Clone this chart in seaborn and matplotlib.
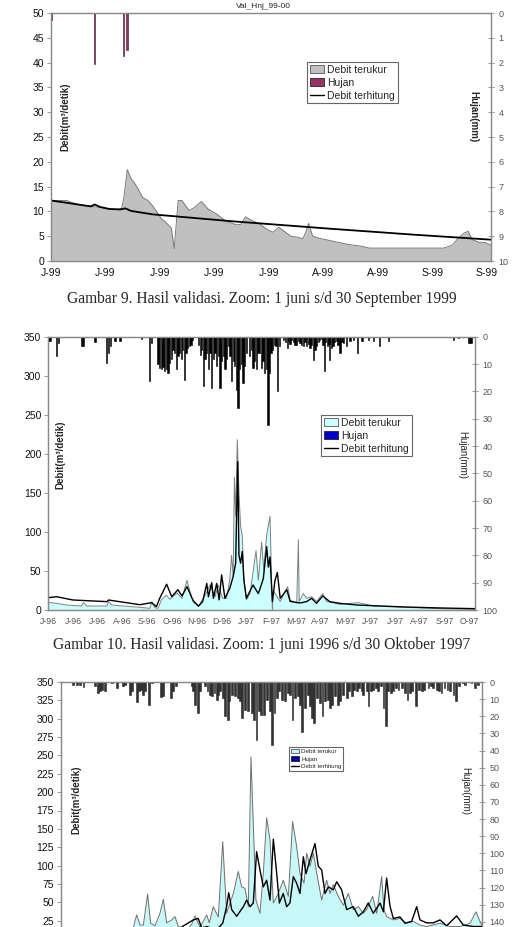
import seaborn as sns
import matplotlib.pyplot as plt
from matplotlib.patches import Patch
from matplotlib.lines import Line2D

# ---- Gambar 9 (1 Jun - 30 Sep 1999), x = hari sejak 1 Juni
m1_day = [0, 2, 4.3, 5.7, 8, 11.2, 12.1, 13.4, 16.2, 18.5, 19.4, 20, 21, 22.1, 23, 24, 25.2, 26.7,
          28.1, 29.5, 30.4, 31.7, 33.1, 33.9, 35, 36, 38, 39.5, 41.4, 43.2, 45.5, 48.2, 51, 52.3,
          53.5, 55.5, 57.4, 59.2, 61, 62.7, 64.2, 66, 67.9, 69.3, 70.2, 70.9, 72, 73.8, 77.5, 82,
          85.3, 87.6, 108.1, 110.4, 112.3, 113.6, 114.8, 115.9, 117.7, 119.6, 121]
m1_val = [12.2, 12.2, 12.2, 11.8, 11.3, 11.0, 10.9, 10.8, 10.4, 10.4, 10.6, 12.5, 18.4, 16.5, 15.7,
          14.5, 12.8, 12.2, 11.0, 9.5, 8.5, 7.7, 6.7, 2.5, 12.2, 12.2, 10.2, 10.8, 12.0, 10.5, 9.5,
          8.0, 7.3, 7.4, 8.9, 8.1, 7.5, 6.5, 5.8, 6.8, 6.0, 5.0, 4.8, 4.5, 6.0, 7.6, 5.0, 4.6, 4.0,
          3.3, 3.0, 2.6, 2.6, 3.2, 4.8, 5.6, 6.0, 4.3, 3.8, 3.7, 3.2]
c1_day = [0, 11, 12, 13.5, 16, 19, 20.5, 22, 28, 50, 77, 100, 121]
c1_val = [12.2, 11.0, 11.4, 10.9, 10.5, 10.4, 10.6, 10.1, 9.4, 8.0, 6.5, 5.3, 4.3]
r1_day = [0, 12, 20, 21]
r1_mm = [0.3, 2.05, 1.75, 1.5]
x1_ticks = [0, 15, 30, 45, 60, 75, 90, 105, 120]
x1_labels = ["J-99", "J-99", "J-99", "J-99", "J-99", "A-99", "A-99", "S-99", "S-99"]

# ---- Gambar 10 (1 Jun 1996 - 30 Okt 1997)
m2_day = [0, 10, 22, 40, 42.5, 46.5, 71, 73, 77, 111, 123, 125.6, 129, 133, 137, 143, 147.5, 156,
          162, 168, 174, 182, 190, 196, 202, 206, 211, 216, 220, 222, 224, 225.5, 227, 229, 231,
          233, 235, 237, 240, 244.4, 251.7, 254.5, 258.5, 261, 264.6, 268.6, 270, 271.5, 272.5,
          274.7, 281, 290, 293, 301, 303, 304, 309, 313, 319, 325, 332.5, 337, 353, 376, 394,
          434, 475, 517]
m2_val = [9.8, 8.5, 6.4, 5.1, 9.4, 5.1, 5.1, 10.7, 6.4, 3.4, 2.1, 10.7, 3, 2.1, 13, 19, 13.7, 22,
          15, 38, 15, 5, 19, 32, 17, 32, 15, 15, 40, 70, 44, 170, 120, 218, 150, 107, 95, 40, 13,
          21, 76, 38, 87, 51, 96, 120, 60, 0, 25, 21, 11, 30, 13, 8.5, 90, 11, 21, 15, 17, 11, 21,
          11, 7.3, 9.4, 5.1, 3.4, 1.7, 0.9]
c2_day = [0, 10, 30, 71, 73, 111, 125, 131, 135, 143.4, 149.5, 157, 162, 168, 176, 182, 187, 192,
          194, 198, 200, 204, 207, 210, 214, 220, 224, 227, 229.5, 231, 233, 235, 237, 240, 248,
          254.5, 260.5, 264.6, 266.6, 268.6, 271.5, 274.7, 277.5, 281, 289, 293, 305, 313, 319,
          325, 332.5, 341, 353.5, 374, 394, 434, 475, 517]
c2_val = [15.8, 17, 12.8, 10.7, 12.8, 6.8, 9.4, 4.3, 15, 33, 17, 26, 18, 30, 10.7, 5, 10.7, 34,
          17, 35, 15, 34, 13, 45, 15, 28, 43, 60, 190, 70, 60, 75, 38, 15, 32, 21, 40, 81, 55, 68,
          11, 38, 48, 15, 26, 11, 9, 10.7, 15, 8.5, 18, 10.7, 8.5, 6.4, 5.5, 3.8, 2.6, 1.7]
r2_day = [0, 2, 10, 12, 40.5, 41.5, 42.5, 56.6, 70.7, 72.7, 75.6, 81, 87, 113, 123, 125,
          133, 135, 137, 139, 141, 143, 145, 147, 149, 151, 153, 155, 157, 159, 161, 163, 165,
          167, 169, 171, 173, 175,
          182, 184, 186, 188, 190, 192, 194, 196, 198, 200, 202, 204, 206, 208, 210, 212, 214,
          216, 218, 220, 222, 224, 226, 228, 230, 232, 234, 236, 238, 240, 244, 246, 248, 250,
          252, 254, 256, 258, 260, 262, 264, 266, 268, 270, 272, 274, 276, 278, 280,
          285, 287, 289.6, 291, 293, 295, 297, 299, 301, 303, 305, 307, 309, 311, 313, 315, 317,
          319, 321, 323, 325, 327, 329, 331, 333, 334.5, 336, 338, 340, 341, 343, 345, 347, 349.4,
          351, 353.5, 356, 358, 361.5, 365.6, 369.6, 374.5, 380, 388, 394, 401, 412, 491, 497,
          509, 511, 513]
r2_mm = [1.7, 1.7, 7.2, 2.3, 3.3, 3.3, 3.3, 2, 9.6, 6, 3.5, 1.7, 1.7, 0.8, 16.3, 2.3,
         10, 11.5, 12, 11, 12.7, 12, 13.3, 9.6, 8, 4.7, 6, 12, 7, 6, 8, 5, 15.7,
         6, 4, 3.5, 3, 1.1,
         3, 6.6, 5, 18.2, 8, 6, 12, 6, 18.8, 8, 6, 10.8, 7, 18.8, 9, 7, 12,
         8, 3.5, 7, 16.3, 9, 10.8, 19.4, 26.1, 12, 10, 17, 10.8, 6, 7.2, 5, 11.5, 9,
         12, 6, 6, 11.5, 9, 13.3, 12, 32.2, 13.3, 6, 4.7, 3, 3.5, 20, 3.5,
         1.1, 2, 4.1, 1.5, 2.5, 1.1, 2, 3, 2.9, 1.5, 2.3, 3, 3.5, 2, 3.5, 2.5, 4.1,
         3, 8.4, 5, 3.5, 2, 1.1, 1, 3, 12.4, 2, 3.5, 2.5, 8.4, 4, 3.5, 2, 1.7,
         3, 6, 2, 2.3, 3.5, 1.7, 1.1, 6, 1.7, 1.1, 1.7, 3.5, 1.7, 1.1, 0.5,
         2.3, 2.3, 2.3]
x2_ticks = list(range(0, 511, 30))
x2_labels = ["J-96", "J-96", "J-96", "A-96", "S-96", "O-96", "N-96", "D-96", "J-97", "F-97",
             "M-97", "A-97", "M-97", "J-97", "J-97", "A-97", "S-97", "O-97"]

# ---- Gambar 11 (terpotong di bawah halaman)
m3_day = [0, 40, 62, 62.7, 65.6, 68.5, 71.4, 75.1, 77.7, 81.5, 85.8, 88.7, 91.6, 96, 98.8, 101.7,
          109, 113.3, 116.2, 120.5, 126.3, 128.6, 132, 136.4, 140.2, 143.6, 149.4, 153.7, 156.6,
          159.5, 162.4, 164.7, 166.7, 169, 172.5, 175.4, 178.3, 181.2, 184.1, 188.4, 192.7, 197.1,
          200.8, 204.3, 207.2, 210.7, 213, 215.9, 218.8, 221.7, 226, 230.3, 233.2, 236.1, 240.4,
          244.8, 249.1, 253.4, 257.8, 262.1, 265, 270.2, 273.7, 278, 280, 282.3, 288.1, 293.9,
          299.7, 305.5, 311.2, 317, 328.6, 337.3, 345.9, 354.6, 359.8, 363.3, 365]
m3_val = [6, 8, 12, 16, 32.8, 19, 19, 61, 21.5, 18, 35, 54, 22, 26, 30.6, 17, 12.5, 20, 31.5, 16,
          32.8, 22, 44, 30, 132.5, 35, 62, 92, 71, 69, 44, 248, 157, 53, 35, 89.5, 165, 135, 49,
          62, 80, 58, 160, 126, 89.5, 76, 117, 99, 117, 89.5, 53, 80, 62, 74, 58, 46, 62, 40, 44,
          35, 40, 58, 35, 85, 40, 30.6, 26, 28, 21.5, 24, 19, 17, 21.5, 17, 17, 21.5, 37, 24, 18]
c3_day = [0, 40, 100, 114.7, 119, 122, 126.3, 135, 140.2, 143.6, 145.4, 148, 152.3, 158.1, 161,
          163.9, 166.7, 169.6, 172.5, 175.4, 178.3, 181.2, 184.1, 187, 189.3, 192.7, 195.6, 198.5,
          201.4, 204.3, 207.2, 210.1, 212.4, 215.9, 220.2, 223.1, 226, 228.9, 231.8, 236.1, 239,
          243.3, 247.7, 253.4, 257.8, 262.1, 266.4, 270.8, 276.6, 279.5, 282.3, 285.2, 288.1,
          293.9, 298.2, 304, 308.4, 311.2, 317, 322.8, 328.6, 334.4, 343, 348.8, 357.5, 365]
c3_val = [8, 8, 12, 26, 28, 15, 17, 12.5, 21.5, 44, 63, 40, 31, 44, 53, 44, 49, 119, 94, 71, 80,
          53, 136, 89.5, 49, 62, 44, 49, 85, 76, 62, 112, 89, 108, 130, 99, 94, 62, 71, 67, 78,
          67, 40, 44, 31, 37, 49, 35, 49, 37, 83, 45, 28, 30, 21.5, 24, 44, 26, 22, 22, 26, 18,
          31.5, 19, 17, 17]
r3_day = [10.7, 13.6, 16.5, 19.4, 29.5, 31.8, 33.8, 35.8, 38.2, 44, 48.3, 54, 55.5, 59.8, 61.8,
          65.6, 67.6, 69.4, 71.4, 72.8, 76.6, 78.6, 86.7, 88.7, 95.4, 97.4, 99.4, 107.5, 113.3,
          114.7, 116.2, 118.5, 120.5, 124.9, 126.9, 129.2, 130.6, 133, 135, 136.4, 137.9, 140.7,
          142.2, 144.5, 145.7, 148, 150.9, 153.2, 155.2, 157.2, 159.5, 162.4, 165.3, 167.6, 169.4,
          171.7, 173.4, 176.3, 178.3, 181.2, 183.2, 185, 187, 189, 191.3, 194.2, 196.5, 198.5,
          200.6, 202.9, 205.2, 207.2, 209.2, 211.6, 213.9, 215.9, 217.3, 219.6, 221.7, 224.6,
          226.6, 228.9, 231.2, 233.2, 235.2, 237.6, 239.9, 241.9, 244.8, 247.7, 250, 252, 254.3,
          256.4, 258.4, 260.7, 262.1, 265, 266.5, 268.8, 270.8, 272.8, 275.1, 277.4, 279.5,
          281.5, 283.8, 286.1, 288.1, 290.2, 292.5, 295.4, 298.3, 300.3, 302.6, 304.6, 307.8,
          310.4, 312.7, 315, 318.5, 320.8, 322.8, 325.7, 327.7, 330, 332.4, 335.2, 337.3, 340.2,
          342.5, 345.1, 348.8, 350.3, 356, 359, 361.3]
r3_mm = [1.6, 1.6, 2.0, 3.1, 2.5, 6.4, 5.5, 4.5, 5.1, 0.6, 3.5, 2.5, 2.0, 7.4, 5.5, 11.7, 5.5,
         4.5, 7.4, 5.5, 13.2, 0.6, 8.8, 8.4, 9.3, 5.5, 2.5, 0.2, 2.5, 5.5, 13.2, 18.1, 5.5, 2.5,
         5.5, 7.4, 8.4, 6.4, 10.3, 7.4, 5.5, 9.3, 20.0, 22, 11.3, 7.4, 8.4, 9.3, 11.3, 21, 16.2,
         17.1, 18.1, 22, 33.7, 17.1, 19, 19, 10.3, 17.1, 36.6, 18.1, 9.3, 5.5, 10.3, 11.3, 6.4,
         7.4, 22, 9.3, 8.4, 13.2, 29.2, 15.2, 7.4, 14.2, 21, 24, 9.3, 12.3, 20, 11.3, 10.3, 15.2,
         13.2, 8.4, 13.2, 11.3, 7.4, 9.3, 5.5, 8.4, 4.5, 5.5, 3.5, 5.5, 7.4, 5.5, 14.2, 5.5, 4.5,
         3.5, 5.5, 2.5, 15.2, 25.9, 5.5, 6.4, 5.5, 3.5, 4.5, 3.5, 6.4, 10.3, 6.4, 5.5, 14.2, 4.5,
         5.5, 4.5, 3.5, 2.5, 3.5, 4.5, 5.5, 6.4, 3.5, 4.5, 5.5, 7.4, 11.3, 2.5, 0.6, 1.6, 0.6,
         3.5, 1.6]

legend_labels = ["Debit terukur", "Hujan", "Debit terhitung"]

sns.set_style("white")
plt.rcParams['font.family'] = ['Liberation Sans', 'DejaVu Sans']

W, H = 516, 927
fig = plt.figure(figsize=(W / 100, H / 100), dpi=100)


def rect(x0, x1, ytop, ybot):
    return [x0 / W, 1 - ybot / H, (x1 - x0) / W, (ybot - ytop) / H]


def panel(r, m_day, m_val, c_day, c_val, r_day, r_mm, xmax, yticks, ymax, rticks, rmax,
          fill, edge, bar_c, bar_edge, bar_w, leg_patch, leg_xy, leg_fs, lw_c=1.0):
    ax = fig.add_axes(r)
    ax.fill_between(m_day, m_val, color=fill, lw=0, zorder=1)
    sns.lineplot(x=m_day, y=m_val, ax=ax, color=edge, lw=0.7, zorder=2)
    sns.lineplot(x=c_day, y=c_val, ax=ax, color="black", lw=lw_c, zorder=3)
    ax.set_xlim(0, xmax)
    ax.set_ylim(0, ymax)
    ax.set_yticks(yticks)
    ax.set_xlabel("")
    ax.set_ylabel("")
    ax2 = ax.twinx()
    ax2.bar(r_day, r_mm, width=bar_w, color=bar_c, edgecolor=bar_edge, lw=0.4)
    ax2.set_ylim(rmax, 0)
    ax2.set_yticks(rticks)
    for a in (ax, ax2):
        for s in a.spines.values():
            s.set_color("#8a8a8a")
            s.set_linewidth(0.9)
    ax.tick_params(axis="y", length=3, width=0.6, color="#8a8a8a", labelsize=7.5,
                   labelcolor="#111111", pad=2)
    ax.tick_params(axis="x", length=3, width=0.6, color="#8a8a8a", pad=2)
    ax2.tick_params(axis="y", direction="inout", length=5, width=0.6, color="#8a8a8a",
                    labelsize=6.5, labelcolor="#555555", pad=3)
    handles = [Patch(facecolor=fill, edgecolor="#555555", lw=0.6),
               Patch(facecolor=leg_patch, edgecolor="#222222", lw=0.6),
               Line2D([], [], color="black", lw=1.0)]
    leg = ax2.legend(handles, legend_labels, loc="upper left", bbox_to_anchor=leg_xy,
                     bbox_transform=fig.transFigure, borderaxespad=0, fontsize=leg_fs,
                     frameon=True, fancybox=False, framealpha=1, edgecolor="#666666",
                     handlelength=1.4, handleheight=0.8, handletextpad=0.3,
                     borderpad=0.25, labelspacing=0.3)
    leg.get_frame().set_linewidth(0.8)
    return ax, ax2


# ---------- chart 1
ax, ax2 = panel(rect(51, 490.7, 13, 261), m1_day, m1_val, c1_day, c1_val, r1_day, r1_mm,
                121, range(0, 51, 5), 50, range(0, 11), 10,
                "#c0c0c0", "#7a7a7a", "#993366", "#3a0f20", 0.45,
                "#993366", (307 / W, 1 - 62 / H), 7.5, lw_c=1.3)
ax.set_xticks(x1_ticks)
ax.set_xticklabels(x1_labels, fontsize=7.5, color="#111111")
fig.text(263 / W, 1 - 7 / H, "Val_Hnj_99-00", ha="center", va="center", fontsize=6)
fig.text(65 / W, 1 - 117 / H, "Debit(m³/detik)", rotation=90, ha="center", va="center",
         fontsize=7, fontweight="bold")
fig.text(473 / W, 1 - 117 / H, "Hujan(mm)", rotation=-90, ha="center", va="center",
         fontsize=7, fontweight="bold")

fig.text(261.5 / W, 1 - 299 / H, "Gambar 9. Hasil validasi. Zoom: 1 juni s/d 30 September 1999",
         ha="center", va="center", family="Liberation Serif", fontsize=11.2)

# ---------- chart 2
ax, ax2 = panel(rect(48.3, 475, 336.7, 610), m2_day, m2_val, c2_day, c2_val, r2_day, r2_mm,
                517, range(0, 351, 50), 350, range(0, 101, 10), 100,
                "#ccffff", "#7f7f7f", "black", "black", 1.6,
                "#0000cc", (321 / W, 1 - 415 / H), 7.5)
ax.set_xticks(x2_ticks)
ax.set_xticklabels(x2_labels, fontsize=6.3, color="#555555")
fig.text(60 / W, 1 - 455 / H, "Debit(m³/detik)", rotation=90, ha="center", va="center",
         fontsize=7, fontweight="bold")
fig.text(462 / W, 1 - 455 / H, "Hujan(mm)", rotation=-90, ha="center", va="center",
         fontsize=7)

fig.text(261.5 / W, 1 - 645 / H,
         "Gambar 10. Hasil validasi. Zoom: 1 juni 1996 s/d 30 Oktober 1997",
         ha="center", va="center", family="Liberation Serif", fontsize=11.2)

# ---------- chart 3 (bagian bawah terpotong halaman: 0 dan 150 tidak tampak)
ax, ax2 = panel(rect(61, 482, 682, 939), m3_day, m3_val, c3_day, c3_val, r3_day, r3_mm,
                365, range(25, 351, 25), 350, range(0, 141, 10), 150,
                "#c8f7f7", "#6f6f6f", "#333333", "#222222", 1.5,
                "#0000aa", (289 / W, 1 - 747 / H), 4.5)
ax.set_xticks([])
fig.text(76 / W, 1 - 800 / H, "Debit(m³/detik)", rotation=90, ha="center", va="center",
         fontsize=7, fontweight="bold")
fig.text(465 / W, 1 - 791 / H, "Hujan(mm)", rotation=-90, ha="center", va="center",
         fontsize=7)

fig.savefig("out.png", dpi=100)
